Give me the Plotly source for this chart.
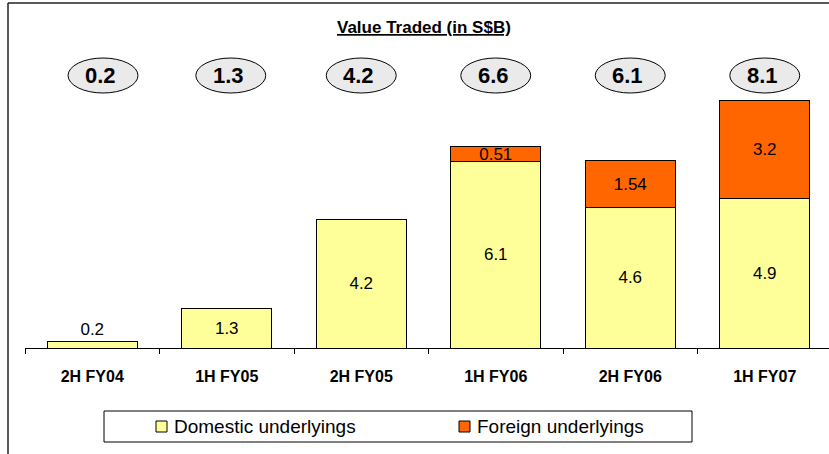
import plotly.graph_objects as go

categories = ["2H FY04", "1H FY05", "2H FY05", "1H FY06", "2H FY06", "1H FY07"]
domestic = [0.2, 1.3, 4.2, 6.1, 4.6, 4.9]
foreign = [None, None, None, 0.51, 1.54, 3.2]
domestic_labels = ["0.2", "1.3", "4.2", "6.1", "4.6", "4.9"]
foreign_labels = ["", "", "", "0.51", "1.54", "3.2"]
totals = ["0.2", "1.3", "4.2", "6.6", "6.1", "8.1"]

W, H = 829, 454
ML, MR, MT, MB = 25, 0, 40, 106
PW, PH = W - ML - MR, H - MT - MB
YMAX = PH / 30.5

def px(x):
    return (x - ML) / PW

def py(y):
    return (H - MB - y) / PH

FONT = "Liberation Sans, Arial, sans-serif"

fig = go.Figure()
fig.add_trace(go.Bar(
    x=categories, y=domestic, name="Domestic underlyings",
    marker=dict(color="#FFFF99", line=dict(color="#000000", width=1)),
    width=0.67, text=domestic_labels,
    textposition=["outside", "inside", "inside", "inside", "inside", "inside"],
    insidetextanchor="middle", constraintext="none",
    textfont=dict(family=FONT, size=17, color="#000000"),
    cliponaxis=False, showlegend=False,
))
fig.add_trace(go.Bar(
    x=categories, y=foreign, name="Foreign underlyings",
    marker=dict(color="#FF6600", line=dict(color="#000000", width=1)),
    width=0.67, text=foreign_labels, textposition="inside",
    insidetextanchor="middle", constraintext="none",
    textfont=dict(family=FONT, size=17, color="#000000"),
    cliponaxis=False, showlegend=False,
))

shapes = []
annotations = []
ell_off = [0.08, 0.03, 0, 0, 0, 0]
for i, t in enumerate(totals):
    cx = i + ell_off[i]
    shapes.append(dict(type="circle", xref="x", yref="paper",
                       x0=cx - 0.26, x1=cx + 0.26, y0=py(93), y1=py(58),
                       fillcolor="#EAEAEA", line=dict(color="#000000", width=1)))
    annotations.append(dict(x=cx - 0.02, y=py(75.5), xref="x", yref="paper", text="<b>%s</b>" % t,
                            showarrow=False, font=dict(family=FONT, size=22, color="#000000"),
                            xanchor="center", yanchor="middle"))

# frame lines
shapes.append(dict(type="line", xref="paper", yref="paper", x0=px(8), x1=px(829), y0=py(3), y1=py(3),
                   line=dict(color="#222222", width=1.5)))
shapes.append(dict(type="line", xref="paper", yref="paper", x0=px(8), x1=px(8), y0=py(3), y1=py(454),
                   line=dict(color="#222222", width=1.5)))

# legend box
shapes.append(dict(type="rect", xref="paper", yref="paper", x0=px(104), x1=px(692), y0=py(442), y1=py(411),
                   fillcolor="#FFFFFF", line=dict(color="#000000", width=1)))
shapes.append(dict(type="rect", xref="paper", yref="paper", x0=px(156), x1=px(167), y0=py(432), y1=py(421),
                   fillcolor="#FFFF99", line=dict(color="#000000", width=1)))
shapes.append(dict(type="rect", xref="paper", yref="paper", x0=px(459), x1=px(470), y0=py(432), y1=py(421),
                   fillcolor="#FF6600", line=dict(color="#000000", width=1)))
annotations.append(dict(x=px(172), y=py(426.5), xref="paper", yref="paper", text="Domestic underlyings",
                        showarrow=False, xanchor="left", yanchor="middle",
                        font=dict(family=FONT, size=19, color="#000000")))
annotations.append(dict(x=px(475), y=py(426.5), xref="paper", yref="paper", text="Foreign underlyings",
                        showarrow=False, xanchor="left", yanchor="middle",
                        font=dict(family=FONT, size=19, color="#000000")))
# title
annotations.append(dict(x=px(424), y=py(27), xref="paper", yref="paper",
                        text="<b><u>Value Traded (in S$B)</u></b>", showarrow=False,
                        xanchor="center", yanchor="middle",
                        font=dict(family=FONT, size=17, color="#000000")))

fig.update_layout(
    width=W, height=H, barmode="stack",
    margin=dict(l=ML, r=MR, t=MT, b=MB, pad=0),
    paper_bgcolor="#FFFFFF", plot_bgcolor="#FFFFFF",
    shapes=shapes, annotations=annotations,
    xaxis=dict(type="category", range=[-0.5, -0.5 + PW / 134.5], tickson="boundaries",
               showline=True, linecolor="#000000", linewidth=1,
               ticks="outside", ticklen=5, tickcolor="#000000", showgrid=False,
               ticklabelstandoff=14,
               tickfont=dict(family=FONT, size=16, color="#000000")),
    yaxis=dict(range=[0, YMAX], visible=False, showgrid=False, zeroline=False),
    showlegend=False,
)
fig.update_xaxes(tickprefix="<b>", ticksuffix="</b>")
fig.write_html("out.html", config={"displayModeBar": False},
               post_script="document.body.style.margin='0';document.body.style.overflow='hidden';")
